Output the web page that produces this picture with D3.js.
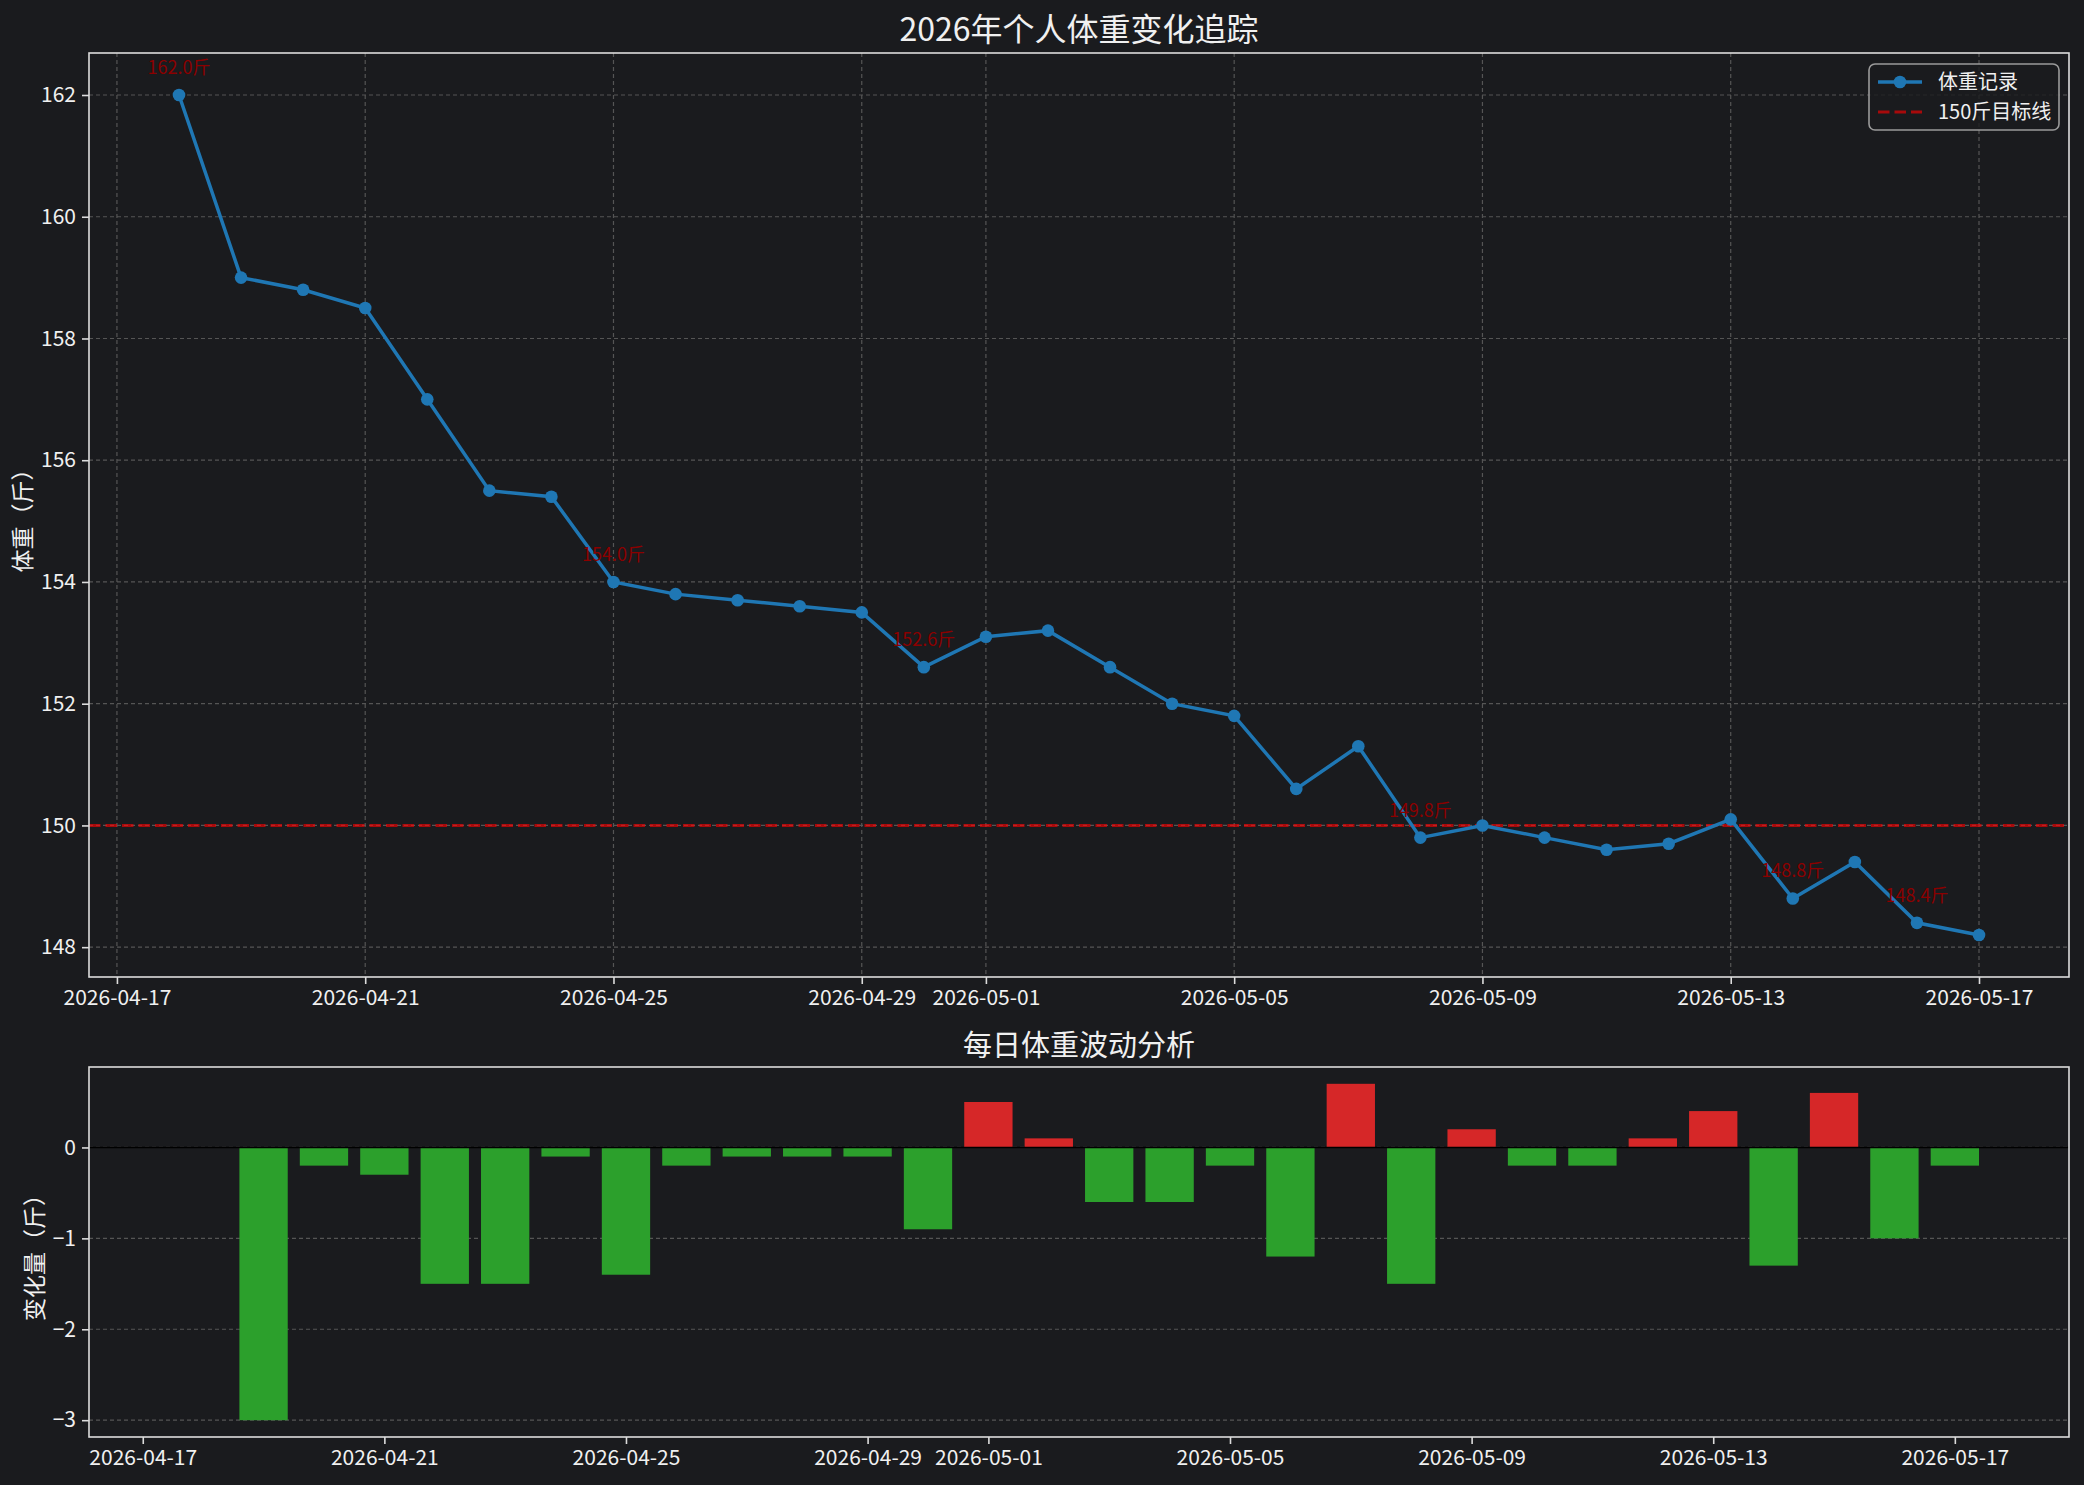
<!DOCTYPE html>
<html>
<head>
<meta charset="utf-8">
<script src="https://cdn.jsdelivr.net/npm/d3@7"></script>
<style>
  body { margin: 0; background: #1a1b1e; }
  svg text { font-family: "Noto Sans CJK SC", "Noto Sans", sans-serif; fill: #f0f0f0; }
</style>
</head>
<body>
<script>
// data
const dates = [
  "2026-04-18", "2026-04-19", "2026-04-20", "2026-04-21", "2026-04-22", "2026-04-23",
  "2026-04-24", "2026-04-25", "2026-04-26", "2026-04-27", "2026-04-28", "2026-04-29",
  "2026-04-30", "2026-05-01", "2026-05-02", "2026-05-03", "2026-05-04", "2026-05-05",
  "2026-05-06", "2026-05-07", "2026-05-08", "2026-05-09", "2026-05-10", "2026-05-11",
  "2026-05-12", "2026-05-13", "2026-05-14", "2026-05-15", "2026-05-16", "2026-05-17"
];
const weights = [
  162.0, 159.0, 158.8, 158.5, 157.0, 155.5,
  155.4, 154.0, 153.8, 153.7, 153.6, 153.5,
  152.6, 153.1, 153.2, 152.6, 152.0, 151.8,
  150.6, 151.3, 149.8, 150.0, 149.8, 149.6,
  149.7, 150.1, 148.8, 149.4, 148.4, 148.2
];
const changes = [
  null, -3.0, -0.2, -0.3, -1.5, -1.5,
  -0.1, -1.4, -0.2, -0.1, -0.1, -0.1,
  -0.9, 0.5, 0.1, -0.6, -0.6, -0.2,
  -1.2, 0.7, -1.5, 0.2, -0.2, -0.2,
  0.1, 0.4, -1.3, 0.6, -1.0, -0.2
];
const annotatedDates = ["2026-04-18", "2026-04-25", "2026-04-30", "2026-05-08", "2026-05-14", "2026-05-16"];
const dateTicks = ["2026-04-17", "2026-04-21", "2026-04-25", "2026-04-29", "2026-05-01",
                   "2026-05-05", "2026-05-09", "2026-05-13", "2026-05-17"];
const weightTicks = [148, 150, 152, 154, 156, 158, 160, 162];
const changeTicks = [-3, -2, -1, 0];
const targetWeight = 150;

const W = 2084, H = 1485;
const bg = "#1a1b1e";
const spineColor = "#dcdcdc";
const gridColor = "#555555";
const DAY = 864e5;

const parse = d3.utcParse("%Y-%m-%d");
const fmt = d3.utcFormat("%Y-%m-%d");
const points = dates.map((d, i) => ({ date: parse(d), weight: weights[i], change: changes[i], label: d }));
const tickDates = dateTicks.map(parse);

const svg = d3.select("body").append("svg")
  .attr("width", W).attr("height", H)
  .style("display", "block");
svg.append("rect").attr("width", W).attr("height", H).attr("fill", bg);

// matplotlib-like autoscale with 5% margin
const pad = ([a, b]) => { const m = (b - a) * 0.05; return [a - m, b + m]; };

// ---------- top panel ----------
const topBox = { l: 89, r: 2069, t: 53, b: 977 };
const tExt = d3.extent(points, (d) => +d.date);
const x1 = d3.scaleUtc().domain(pad(tExt).map((v) => new Date(v))).range([topBox.l, topBox.r]);
const y1 = d3.scaleLinear().domain(pad(d3.extent(weights))).range([topBox.b, topBox.t]);

const g1 = svg.append("g");

// grid
g1.append("g").selectAll("line").data(tickDates).join("line")
  .attr("x1", (d) => x1(d)).attr("x2", (d) => x1(d))
  .attr("y1", topBox.t).attr("y2", topBox.b)
  .attr("stroke", gridColor).attr("stroke-width", 1.2).attr("stroke-dasharray", "4,3");
g1.append("g").selectAll("line").data(weightTicks).join("line")
  .attr("x1", topBox.l).attr("x2", topBox.r)
  .attr("y1", (d) => y1(d)).attr("y2", (d) => y1(d))
  .attr("stroke", gridColor).attr("stroke-width", 1.2).attr("stroke-dasharray", "4,3");

// target line
g1.append("line")
  .attr("x1", topBox.l).attr("x2", topBox.r)
  .attr("y1", y1(targetWeight)).attr("y2", y1(targetWeight))
  .attr("stroke", "#ff0000").attr("stroke-opacity", 0.62)
  .attr("stroke-width", 3.1).attr("stroke-dasharray", "11.5,5");

// weight line
const line = d3.line().x((d) => x1(d.date)).y((d) => y1(d.weight));
g1.append("path").datum(points)
  .attr("d", line).attr("fill", "none")
  .attr("stroke", "#1f77b4").attr("stroke-width", 3.5);
g1.append("g").selectAll("circle").data(points).join("circle")
  .attr("cx", (d) => x1(d.date)).attr("cy", (d) => y1(d.weight))
  .attr("r", 6.3).attr("fill", "#1f77b4");

// annotations
g1.append("g").selectAll("text")
  .data(points.filter((d) => annotatedDates.includes(d.label)))
  .join("text")
  .attr("x", (d) => x1(d.date)).attr("y", (d) => y1(d.weight) - 21)
  .attr("text-anchor", "middle")
  .style("font-size", "18px").style("fill", "#8b0000")
  .text((d) => `${d.weight.toFixed(1)}斤`);

// axes
const styleAxis = (sel) => {
  sel.select(".domain").remove();
  sel.selectAll(".tick line").attr("stroke", spineColor).attr("stroke-width", 1.6);
  sel.selectAll(".tick text").style("font-size", "21px").style("fill", "#f0f0f0")
    .attr("font-family", null);
};
g1.append("g").attr("transform", `translate(0,${topBox.b})`)
  .call(d3.axisBottom(x1).tickValues(tickDates).tickFormat(fmt).tickSize(7).tickPadding(6))
  .call(styleAxis);
g1.append("g").attr("transform", `translate(${topBox.l},0)`)
  .call(d3.axisLeft(y1).tickValues(weightTicks).tickSize(7).tickPadding(6))
  .call(styleAxis);

g1.append("rect").attr("x", topBox.l).attr("y", topBox.t)
  .attr("width", topBox.r - topBox.l).attr("height", topBox.b - topBox.t)
  .attr("fill", "none").attr("stroke", spineColor).attr("stroke-width", 1.6);

g1.append("text")
  .attr("x", (topBox.l + topBox.r) / 2).attr("y", 41)
  .attr("text-anchor", "middle")
  .style("font-size", "32px")
  .text("2026年个人体重变化追踪");
g1.append("text")
  .attr("transform", `translate(31,${(topBox.t + topBox.b) / 2}) rotate(-90)`)
  .attr("text-anchor", "middle")
  .style("font-size", "23px")
  .text("体重（斤）");

// legend
const lg = g1.append("g").attr("transform", "translate(1869,64)");
lg.append("rect").attr("width", 190).attr("height", 66).attr("rx", 6)
  .attr("fill", bg).attr("fill-opacity", 0.8)
  .attr("stroke", "#9a9a9a").attr("stroke-width", 1.6);
lg.append("line").attr("x1", 9).attr("x2", 53).attr("y1", 18).attr("y2", 18)
  .attr("stroke", "#1f77b4").attr("stroke-width", 3.5);
lg.append("circle").attr("cx", 31).attr("cy", 18).attr("r", 6.3).attr("fill", "#1f77b4");
lg.append("line").attr("x1", 9).attr("x2", 53).attr("y1", 48).attr("y2", 48)
  .attr("stroke", "#ff0000").attr("stroke-opacity", 0.62)
  .attr("stroke-width", 3.1).attr("stroke-dasharray", "11.5,5");
lg.append("text").attr("x", 69).attr("y", 25).style("font-size", "20px").text("体重记录");
lg.append("text").attr("x", 69).attr("y", 55).style("font-size", "20px").text("150斤目标线");

// ---------- bottom panel ----------
const botBox = { l: 89, r: 2069, t: 1067, b: 1437 };
const barHalf = 0.4 * DAY;
const x2 = d3.scaleUtc()
  .domain(pad([tExt[0] - barHalf, tExt[1] + barHalf]).map((v) => new Date(v)))
  .range([botBox.l, botBox.r]);
const valid = changes.filter((v) => v != null);
const y2 = d3.scaleLinear().domain(pad([Math.min(0, d3.min(valid)), Math.max(0, d3.max(valid))]))
  .range([botBox.b, botBox.t]);

const g2 = svg.append("g");

g2.append("g").selectAll("line").data(changeTicks).join("line")
  .attr("x1", botBox.l).attr("x2", botBox.r)
  .attr("y1", (d) => y2(d)).attr("y2", (d) => y2(d))
  .attr("stroke", gridColor).attr("stroke-width", 1.2).attr("stroke-dasharray", "4,3");

const barW = x2(new Date(+tickDates[0] + 0.8 * DAY)) - x2(tickDates[0]);
g2.append("g").selectAll("rect")
  .data(points.filter((d) => d.change != null))
  .join("rect")
  .attr("x", (d) => x2(d.date) - barW / 2)
  .attr("width", barW)
  .attr("y", (d) => y2(Math.max(0, d.change)))
  .attr("height", (d) => Math.abs(y2(d.change) - y2(0)))
  .attr("fill", (d) => d.change > 0 ? "#d62728" : "#2ca02c");

g2.append("line").attr("x1", botBox.l).attr("x2", botBox.r)
  .attr("y1", y2(0)).attr("y2", y2(0))
  .attr("stroke", "#000").attr("stroke-width", 1.6);

g2.append("g").attr("transform", `translate(0,${botBox.b})`)
  .call(d3.axisBottom(x2).tickValues(tickDates).tickFormat(fmt).tickSize(7).tickPadding(6))
  .call(styleAxis);
g2.append("g").attr("transform", `translate(${botBox.l},0)`)
  .call(d3.axisLeft(y2).tickValues(changeTicks).tickSize(7).tickPadding(6).tickFormat((d) => d < 0 ? `\u2212${-d}` : d))
  .call(styleAxis);

g2.append("rect").attr("x", botBox.l).attr("y", botBox.t)
  .attr("width", botBox.r - botBox.l).attr("height", botBox.b - botBox.t)
  .attr("fill", "none").attr("stroke", spineColor).attr("stroke-width", 1.6);

g2.append("text")
  .attr("x", (botBox.l + botBox.r) / 2).attr("y", 1056)
  .attr("text-anchor", "middle")
  .style("font-size", "29px")
  .text("每日体重波动分析");
g2.append("text")
  .attr("transform", `translate(43,${(botBox.t + botBox.b) / 2}) rotate(-90)`)
  .attr("text-anchor", "middle")
  .style("font-size", "23px")
  .text("变化量（斤）");
</script>
</body>
</html>
